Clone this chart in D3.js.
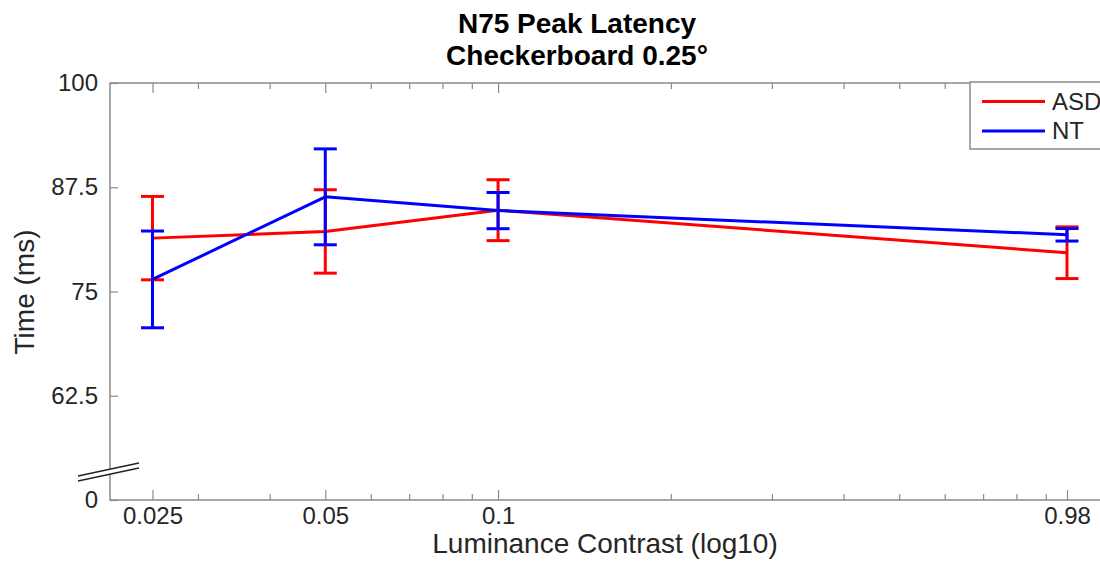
<!DOCTYPE html>
<html>
<head>
<meta charset="utf-8">
<script src="https://cdn.jsdelivr.net/npm/d3@7"></script>
<style>
  html, body { margin: 0; padding: 0; background: #fff; }
  svg { display: block; font-family: "Liberation Sans", Arial, Helvetica, sans-serif; }
</style>
</head>
<body>
<svg id="chart" width="1100" height="562"></svg>
<script>
// Contrast levels (x, log scale)
const contrasts = [0.025, 0.05, 0.1, 0.98];
const xTickLabels = ["0.025", "0.05", "0.1", "0.98"];
const xMinorTicks = [0.03, 0.04, 0.06, 0.07, 0.08, 0.09, 0.2, 0.3, 0.4, 0.5, 0.6, 0.7, 0.8, 0.9];

// Mean N75 latency (ms) and error half-widths per group
const asdMean = [81.4, 82.2, 84.75, 79.65];
const asdErr  = [5.0, 5.0, 3.65, 3.1];
const ntMean  = [76.45, 86.35, 84.7, 81.8];
const ntErr   = [5.8, 5.75, 2.17, 0.75];

// Y axis (broken: bottom of the axis reads 0)
const yTicks = [50, 62.5, 75, 87.5, 100];
const yTickLabels = ["0", "62.5", "75", "87.5", "100"];

const series = [
  { name: "ASD", color: "#ff0000", mean: asdMean, err: asdErr },
  { name: "NT",  color: "#0000ff", mean: ntMean,  err: ntErr }
];

const svg = d3.select("#chart");
const frame = { left: 110, right: 1115, top: 83, bottom: 500 };

const x = d3.scaleLog().domain([0.025, 0.98]).range([152.5, 1067]);
const y = d3.scaleLinear().domain([50, 100]).range([frame.bottom, frame.top]);

const axisColor = "#8a8a8a";
const textColor = "#262626";

// Plot frame
const g = svg.append("g");
g.append("rect")
  .attr("x", frame.left).attr("y", frame.top)
  .attr("width", frame.right - frame.left).attr("height", frame.bottom - frame.top)
  .attr("fill", "none").attr("stroke", axisColor).attr("stroke-width", 1.5);

function styleAxis(sel) {
  sel.select(".domain").remove();
  sel.selectAll(".tick line").attr("stroke", axisColor).attr("stroke-width", 1.2);
  sel.selectAll(".tick text").attr("fill", textColor).style("font-size", "24px");
}

// Bottom axis: major ticks with labels, minor ticks without
g.append("g").attr("transform", `translate(0,${frame.bottom})`)
  .call(d3.axisBottom(x).tickValues(contrasts).tickSize(-10).tickPadding(7)
        .tickFormat((d, i) => xTickLabels[i]))
  .call(styleAxis);
g.append("g").attr("transform", `translate(0,${frame.bottom})`)
  .call(d3.axisBottom(x).tickValues(xMinorTicks).tickSize(-6).tickFormat(""))
  .call(styleAxis);

// Top axis mirrored ticks
g.append("g").attr("transform", `translate(0,${frame.top})`)
  .call(d3.axisTop(x).tickValues(contrasts).tickSize(-10).tickFormat(""))
  .call(styleAxis);
g.append("g").attr("transform", `translate(0,${frame.top})`)
  .call(d3.axisTop(x).tickValues(xMinorTicks).tickSize(-6).tickFormat(""))
  .call(styleAxis);

// Left axis
g.append("g").attr("transform", `translate(${frame.left},0)`)
  .call(d3.axisLeft(y).tickValues(yTicks).tickSize(-8).tickPadding(12)
        .tickFormat((d, i) => yTickLabels[i]))
  .call(styleAxis);

// Axis break marks
const brk = svg.append("g");
const bx1 = 78, by1 = 476, bx2 = 139, by2 = 463;
brk.append("polygon")
  .attr("points", `${bx1},${by1} ${bx2},${by2} ${bx2},${by2 + 5} ${bx1},${by1 + 5}`)
  .attr("fill", "#fff");
[0, 5].forEach(off => {
  brk.append("line")
    .attr("x1", bx1).attr("y1", by1 + off).attr("x2", bx2).attr("y2", by2 + off)
    .attr("stroke", "#222").attr("stroke-width", 1.4);
});

// Data: connecting lines and error bars
const line = d3.line().x((d, i) => x(contrasts[i])).y(d => y(d));
const capHalf = 11.5;
series.forEach(s => {
  const sg = svg.append("g");
  sg.append("path")
    .datum(s.mean)
    .attr("d", line)
    .attr("fill", "none").attr("stroke", s.color).attr("stroke-width", 3)
    .attr("stroke-linejoin", "round");
  s.mean.forEach((m, i) => {
    const cx = x(contrasts[i]);
    const yTop = y(m + s.err[i]);
    const yBot = y(m - s.err[i]);
    sg.append("line").attr("x1", cx).attr("x2", cx).attr("y1", yTop).attr("y2", yBot)
      .attr("stroke", s.color).attr("stroke-width", 3);
    [yTop, yBot].forEach(cy => {
      sg.append("line").attr("x1", cx - capHalf).attr("x2", cx + capHalf)
        .attr("y1", cy).attr("y2", cy)
        .attr("stroke", s.color).attr("stroke-width", 3);
    });
  });
});

// Legend
const lg = svg.append("g");
lg.append("rect")
  .attr("x", 970).attr("y", 82).attr("width", 150).attr("height", 67)
  .attr("fill", "#fff").attr("stroke", axisColor).attr("stroke-width", 1.5);
series.forEach((s, i) => {
  const ly = 101.5 + i * 29.5;
  lg.append("line").attr("x1", 982).attr("x2", 1045).attr("y1", ly).attr("y2", ly)
    .attr("stroke", s.color).attr("stroke-width", 3);
  lg.append("text").attr("x", 1052).attr("y", ly + 8)
    .attr("fill", textColor).style("font-size", "24px").text(s.name);
});

// Titles and axis labels
svg.append("text").attr("x", 577).attr("y", 33).attr("text-anchor", "middle")
  .attr("fill", "#000").style("font-size", "28px").style("font-weight", "bold")
  .text("N75 Peak Latency");
svg.append("text").attr("x", 577).attr("y", 65).attr("text-anchor", "middle")
  .attr("fill", "#000").style("font-size", "28px").style("font-weight", "bold")
  .text("Checkerboard 0.25°");
svg.append("text").attr("x", 605).attr("y", 553).attr("text-anchor", "middle")
  .attr("fill", textColor).style("font-size", "28px")
  .text("Luminance Contrast (log10)");
svg.append("text")
  .attr("transform", "translate(34,292) rotate(-90)")
  .attr("text-anchor", "middle")
  .attr("fill", textColor).style("font-size", "28px")
  .text("Time (ms)");
</script>
</body>
</html>
